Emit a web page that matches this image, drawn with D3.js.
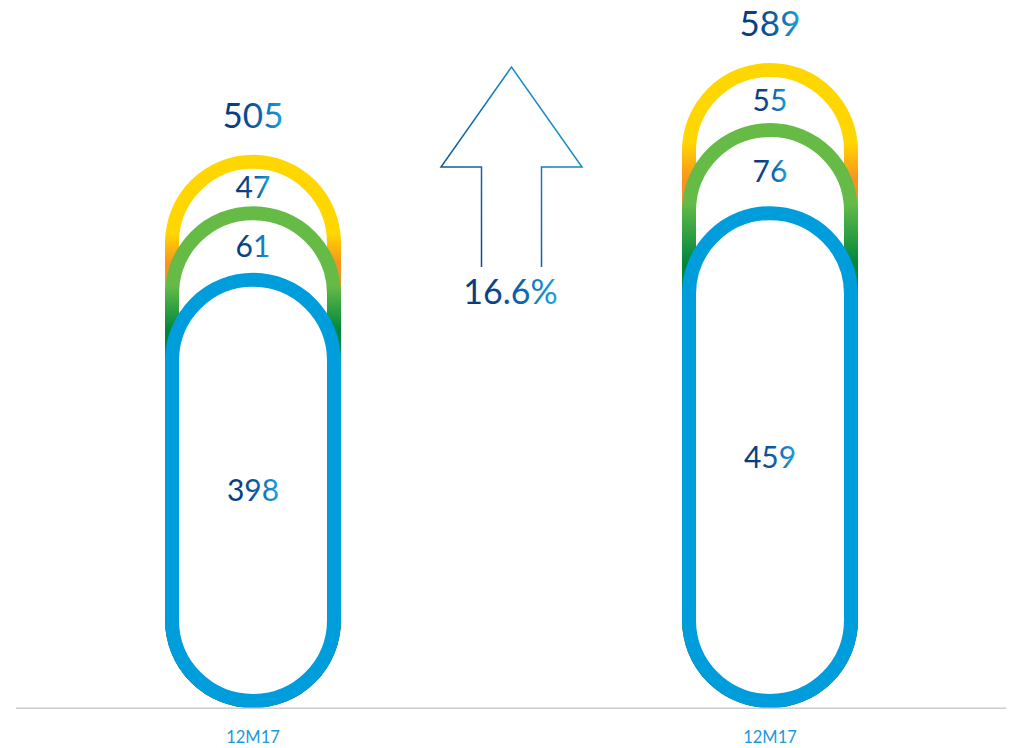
<!DOCTYPE html>
<html>
<head>
<meta charset="utf-8">
<script src="https://cdn.jsdelivr.net/npm/d3@7"></script>
<style>
  html, body { margin: 0; padding: 0; background: #ffffff; }
  svg { display: block; }
  text { font-family: Lato, "Open Sans", sans-serif; }
</style>
</head>
<body>
<svg id="chart" width="1011" height="748"></svg>
<script>
// ---- data ----
const periods = ["12M17", "12M17"];
const seriesNames = ["Base", "Middle", "Top"];
const baseValues = [398, 459];
const middleValues = [61, 76];
const topValues = [47, 55];
const totalLabels = ["505", "589"];
const growthLabel = "16.6%";

// ---- layout ----
const W = 1011, H = 748;
const svg = d3.select("#chart");
const defs = svg.append("defs");

const x = d3.scalePoint().domain(d3.range(periods.length)).range([253, 770]);
const y = d3.scaleLinear().domain([0, 600]).range([708, 52]);

const pillW = 176, sw = 14, r = pillW / 2;

// text gradient
const tg = defs.append("linearGradient").attr("id", "txtGrad")
  .attr("x1", 0).attr("x2", 1).attr("y1", 0).attr("y2", 0);
tg.append("stop").attr("offset", 0).attr("stop-color", "#073877");
tg.append("stop").attr("offset", 0.3).attr("stop-color", "#0a4284");
tg.append("stop").attr("offset", 0.65).attr("stop-color", "#0f68ae");
tg.append("stop").attr("offset", 1).attr("stop-color", "#1ba4e0");

// arrow gradient
const ag = defs.append("linearGradient").attr("id", "arrowGrad")
  .attr("x1", 0).attr("x2", 1).attr("y1", 1).attr("y2", 0);
ag.append("stop").attr("offset", 0).attr("stop-color", "#0a3f80");
ag.append("stop").attr("offset", 1).attr("stop-color", "#1aa3e0");

const colorTop = ["#ffd600", "#f7931e"];
const colorMid = ["#66bb47", "#00873c"];
const colorBase = "#009ddd";

const g = svg.append("g");

periods.forEach((p, i) => {
  const cx = x(i);
  const c1 = baseValues[i];
  const c2 = c1 + middleValues[i];
  const c3 = c2 + topValues[i];
  const layers = [
    { cum: c3, next: c2, colors: colorTop, id: "gTop" + i },
    { cum: c2, next: c1, colors: colorMid, id: "gMid" + i },
    { cum: c1, next: null, colors: null, id: null }
  ];
  layers.forEach(L => {
    let stroke = colorBase;
    if (L.colors) {
      const lg = defs.append("linearGradient").attr("id", L.id)
        .attr("gradientUnits", "userSpaceOnUse")
        .attr("x1", 0).attr("x2", 0)
        .attr("y1", y(L.cum) + r * 0.9)
        .attr("y2", y(L.next) + r * 0.65);
      lg.append("stop").attr("offset", 0).attr("stop-color", L.colors[0]);
      lg.append("stop").attr("offset", 1).attr("stop-color", L.colors[1]);
      stroke = `url(#${L.id})`;
    }
    const top = y(L.cum) + sw / 2;
    const bottom = y(0) - sw / 2;
    g.append("rect")
      .attr("x", cx - pillW / 2 + sw / 2)
      .attr("y", top)
      .attr("width", pillW - sw)
      .attr("height", bottom - top)
      .attr("rx", (pillW - sw) / 2)
      .attr("ry", (pillW - sw) / 2)
      .attr("fill", "#ffffff")
      .attr("stroke", stroke)
      .attr("stroke-width", sw);
  });

  // segment labels
  const segs = [
    { v: topValues[i], hi: c3, lo: c2 },
    { v: middleValues[i], hi: c2, lo: c1 },
    { v: baseValues[i], hi: c1, lo: 0, base: true }
  ];
  segs.forEach(s => {
    const a = y(s.hi) + sw;
    const b = s.base ? y(0) - sw : y(s.lo);
    const mid = (a + b) / 2;
    g.append("text")
      .attr("x", cx).attr("y", mid + 10.5)
      .attr("text-anchor", "middle")
      .attr("font-size", 30)
      .attr("fill", "url(#txtGrad)")
      .text(s.v);
  });

  // total label
  g.append("text")
    .attr("x", cx).attr("y", y(c3) - 27)
    .attr("text-anchor", "middle")
    .attr("font-size", 35)
    .attr("fill", "url(#txtGrad)")
    .text(totalLabels[i]);

  // category label
  g.append("text")
    .attr("x", cx).attr("y", 743)
    .attr("text-anchor", "middle")
    .attr("font-size", 16.5)
    .attr("fill", "#1b9ad7")
    .text(p);
});

// baseline
svg.append("line")
  .attr("x1", 16).attr("x2", 1006)
  .attr("y1", y(0) + 0.3).attr("y2", y(0) + 0.3)
  .attr("stroke", "#cccccc").attr("stroke-width", 1.5);

// growth arrow
const ax = (x(0) + x(1)) / 2;
const tipY = 67, wingY = 167, shaftBottom = 267;
const headHalf = 70.5, shaftHalf = 30;
const arrowPts = [
  [ax - shaftHalf, shaftBottom],
  [ax - shaftHalf, wingY],
  [ax - headHalf, wingY],
  [ax, tipY],
  [ax + headHalf, wingY],
  [ax + shaftHalf, wingY],
  [ax + shaftHalf, shaftBottom]
];
svg.append("path")
  .attr("d", d3.line()(arrowPts))
  .attr("fill", "none")
  .attr("stroke", "url(#arrowGrad)")
  .attr("stroke-width", 1.5);

svg.append("text")
  .attr("x", ax - 1).attr("y", 304)
  .attr("text-anchor", "middle")
  .attr("font-size", 34)
  .attr("fill", "url(#txtGrad)")
  .text(growthLabel);
</script>
</body>
</html>
